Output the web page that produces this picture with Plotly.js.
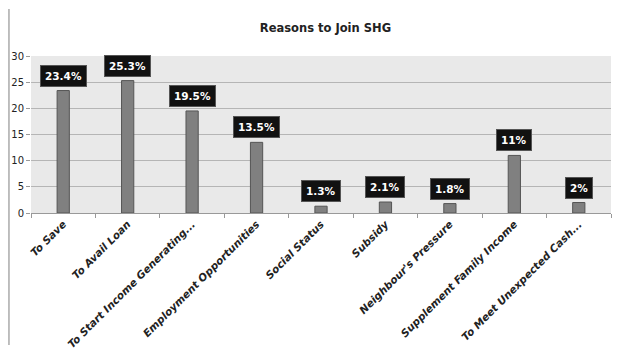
<!DOCTYPE html>
<html><head><meta charset="utf-8">
<script src="https://cdn.plot.ly/plotly-3.0.1.min.js"></script>
<style>html,body{margin:0;padding:0;background:#fff}#c{width:632px;height:350px}</style>
</head><body><div id="c"></div>
<script>
const categories = ["To Save","To Avail Loan","To Start Income Generating...","Employment Opportunities","Social Status","Subsidy","Neighbour's Pressure","Supplement Family Income","To Meet Unexpected Cash..."];
const values = [23.4, 25.3, 19.5, 13.5, 1.3, 2.1, 1.8, 11, 2];
const labels = ["23.4%","25.3%","19.5%","13.5%","1.3%","2.1%","1.8%","11%","2%"];
const yTicks = [0,5,10,15,20,25,30];

const trace = {
  type:'bar', x:categories, y:values, width:0.19,
  marker:{color:'#808080', line:{color:'#555', width:1}},
  hoverinfo:'none'
};
const annotations = categories.map((c,i)=>({
  x:c, y:values[i], xref:'x', yref:'y', text:'<b>'+labels[i]+'</b>', showarrow:false,
  yanchor:'bottom', yshift:4, bgcolor:'#111', bordercolor:'#555', borderwidth:1, borderpad:4,
  font:{family:'DejaVu Sans', size:10.5, color:'#fff'}
}));
const layout = {
  width:632, height:350,
  margin:{l:31, r:21, t:56, b:137},
  paper_bgcolor:'#fff', plot_bgcolor:'#e9e9e9',
  title:{text:'<b>Reasons to Join SHG</b>', x:0.515, xanchor:'center', y:0.92, yanchor:'middle',
    font:{family:'DejaVu Sans', size:11.5, color:'#222'}},
  xaxis:{tickangle:-45, tickfont:{family:'DejaVu Sans', size:10.5, color:'#222', style:'italic', weight:'bold'},
    showline:true, linecolor:'#999', ticks:'outside', tickson:'boundaries', ticklen:4, tickcolor:'#999',
    showgrid:false, fixedrange:true},
  yaxis:{range:[0,30], tickvals:yTicks, tickfont:{family:'DejaVu Sans', size:10, color:'#222'},
    gridcolor:'#b5b5b5', showline:false, ticks:'outside', ticklen:4, tickcolor:'#999', zeroline:false},
  bargap:0.8, showlegend:false, annotations:annotations,
  shapes:[{type:'line', xref:'paper', yref:'paper', x0:-0.038, x1:-0.038, y0:-0.84, y1:1.3, line:{color:'#aaa', width:1.5}}]
};
Plotly.newPlot('c',[trace],layout,{displayModeBar:false, staticPlot:true});
</script></body></html>
